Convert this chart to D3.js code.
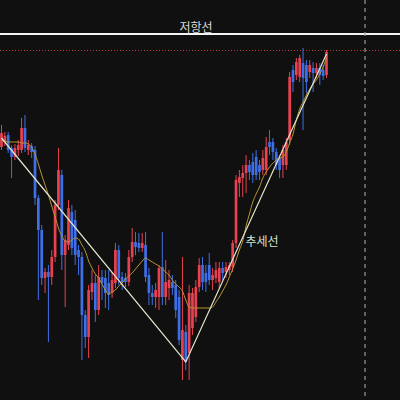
<!DOCTYPE html>
<html>
<head>
<meta charset="utf-8">
<script src="https://cdn.jsdelivr.net/npm/d3@7"></script>
<style>
  html, body { margin: 0; padding: 0; background: #101010; }
  svg { display: block; }
</style>
</head>
<body>
<svg id="chart"></svg>
<script>
// candle prices (index = bar number)
const openP  = [253,258,265,252,243,250,250,272,250,254, 250,202,170,122,128,123,143,195,225,145,
                155,188,180,150,143,85,63,108,117,90, 123,122,117,107,117,150,123,122,118,143,
                158,157,152,155,125,107,103,103,133,103, 112,118,115,103,40,68,47,72,83,113,
                135,127,135,120,122,118,132,128,130,133, 157,217,222,227,235,238,243,235,230,230,
                258,258,248,242,235,235,260,330,325,323, 337,335,328,332,327,332,330,325];
const highP  = [275,268,268,255,256,260,282,285,260,257, 254,205,175,132,135,150,200,252,230,165,
                200,195,190,155,148,90,115,130,125,135, 130,130,130,128,157,155,128,127,150,172,
                168,167,167,168,132,115,117,135,168,140, 130,125,120,110,143,75,115,112,120,142,
                143,135,147,132,138,138,138,138,138,160, 225,230,235,245,240,247,250,240,250,263,
                270,262,252,245,255,262,328,335,342,345, 352,340,340,338,337,337,335,350];
const lowP   = [250,254,247,222,240,244,247,248,245,242, 195,100,115,107,58,115,138,190,130,93,
                150,145,135,125,40,52,42,100,78,85, 100,92,90,102,112,115,110,113,114,138,
                145,148,148,118,95,95,92,90,95,95, 100,105,82,55,20,30,20,65,78,108,
                110,108,115,110,117,112,120,122,125,128, 152,203,203,207,220,217,220,220,225,225,
                245,240,230,222,222,230,255,308,320,318, 270,307,322,308,322,315,320,322];
const closeP = [267,264,250,243,252,255,272,252,255,248, 202,170,122,128,123,143,195,230,145,160,
                192,152,145,143,85,63,110,117,90,123, 117,107,105,120,150,122,118,118,143,158,
                153,152,157,123,107,103,110,132,103,118, 120,112,90,60,70,38,107,107,113,135,
                118,118,120,125,130,132,127,133,135,157, 220,223,227,235,228,225,225,228,242,253,
                253,248,235,230,250,258,323,318,338,342, 322,318,335,327,332,325,324,348];

// moving average
const maP = [260,259,258,258,258,258,257,257,256,253, 246,236,225,215,205,194,183,172,164,159,
             158,160,162,161,155,149,139,132,126,122, 116,110,106,108,110,114,117,121,124,127,
             131,135,139,142,140,138,136,134,131,128, 125,120,116,113,109,100,93,92,92,92,
             92,92,92,93,98,103,109,115,123,131, 140,150,159,174,186,198,206,213,222,228,
             233,237,240,242,243,248,257,266,280,291, 298,305,311,316,320,326,333,342];

// trend line pivots [bar, price]
const trendPts = [[0, 262], [55, 38], [97, 346]];

const resistance = 366;     // 저항선
const lastHigh = 349.5;     // red dotted line
const cursorBar = 108.5;    // vertical dashed line
const labels = { resistance: "저항선", trend: "추세선" };

const candles = openP.map((o, i) => ({
  i: i, open: o, high: highP[i], low: lowP[i], close: closeP[i]
}));

const width = 400, height = 400;
const upColor = "#e8414f", downColor = "#3f6fe6";

let svg = d3.select("#chart")
  .attr("width", width)
  .attr("height", height);

svg.append("rect")
  .attr("width", width)
  .attr("height", height)
  .attr("fill", "#101010");

let x = d3.scaleLinear()
  .domain([0, candles.length - 1])
  .range([1.5, 326.5]);

let y = d3.scaleLinear()
  .domain([0, 400])
  .range([400, 0]);

const bodyW = 2.7;
const col = d => d.close >= d.open ? upColor : downColor;

// wicks
svg.append("g").selectAll("line")
  .data(candles)
  .enter()
    .append("line")
    .attr("x1", d => x(d.i))
    .attr("x2", d => x(d.i))
    .attr("y1", d => y(d.high))
    .attr("y2", d => y(d.low))
    .attr("stroke", col)
    .attr("stroke-width", 1);

// bodies
svg.append("g").selectAll("rect")
  .data(candles)
  .enter()
    .append("rect")
    .attr("x", d => x(d.i) - bodyW / 2)
    .attr("y", d => y(Math.max(d.open, d.close)))
    .attr("width", bodyW)
    .attr("height", d => Math.max(1, Math.abs(y(d.open) - y(d.close))))
    .attr("fill", col);

// moving average
let maLine = d3.line()
  .x((d, i) => x(i))
  .y(d => y(d))
  .curve(d3.curveMonotoneX);

svg.append("path")
  .datum(maP)
  .attr("d", maLine)
  .attr("fill", "none")
  .attr("stroke", "#b8952f")
  .attr("stroke-width", 1);

// trend line
svg.append("path")
  .datum(trendPts)
  .attr("d", d3.line().x(d => x(d[0])).y(d => y(d[1])))
  .attr("fill", "none")
  .attr("stroke", "#e4e6cc")
  .attr("stroke-width", 1.2);

// red dotted line at recent high
svg.append("line")
  .attr("x1", 0).attr("x2", width)
  .attr("y1", y(lastHigh)).attr("y2", y(lastHigh))
  .attr("stroke", "#b8343a")
  .attr("stroke-width", 1)
  .attr("stroke-dasharray", "1,2");

// resistance line
svg.append("line")
  .attr("x1", 0).attr("x2", width)
  .attr("y1", y(resistance)).attr("y2", y(resistance))
  .attr("stroke", "#f4f4f4")
  .attr("stroke-width", 2);

svg.append("text")
  .attr("x", 196)
  .attr("y", y(resistance) - 2.5)
  .attr("text-anchor", "middle")
  .attr("font-family", "'Noto Sans CJK KR', sans-serif")
  .attr("font-size", 12)
  .attr("fill", "#dcdcdc")
  .text(labels.resistance);

// vertical dashed line
svg.append("line")
  .attr("x1", x(cursorBar)).attr("x2", x(cursorBar))
  .attr("y1", 0).attr("y2", height)
  .attr("stroke", "#9a9a9a")
  .attr("stroke-width", 1.2)
  .attr("stroke-dasharray", "4,4");

// trend label
svg.append("text")
  .attr("x", 262)
  .attr("y", 246)
  .attr("text-anchor", "middle")
  .attr("font-family", "'Noto Sans CJK KR', sans-serif")
  .attr("font-size", 12)
  .attr("fill", "#cfe3d6")
  .text(labels.trend);
</script>
</body>
</html>
